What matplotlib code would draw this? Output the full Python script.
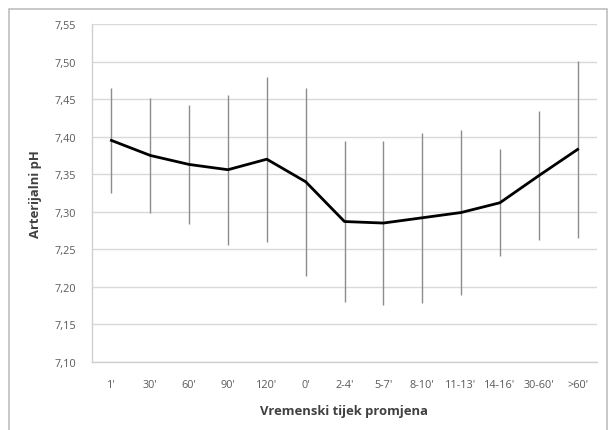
import matplotlib
matplotlib.use("Agg")
import matplotlib.pyplot as plt
from matplotlib.patches import Rectangle
import numpy as np

# Arterial pH over time (mean ± SD)
categories = ["1'", "30'", "60'", "90'", "120'", "0'", "2-4'", "5-7'",
              "8-10'", "11-13'", "14-16'", "30-60'", ">60'"]
ph_mean = [7.395, 7.375, 7.363, 7.356, 7.370, 7.340, 7.287, 7.285,
           7.292, 7.299, 7.312, 7.348, 7.383]
ph_sd = [0.070, 0.076, 0.079, 0.100, 0.110, 0.125, 0.107, 0.109,
         0.113, 0.110, 0.071, 0.086, 0.118]
y_ticks = [7.10, 7.15, 7.20, 7.25, 7.30, 7.35, 7.40, 7.45, 7.50, 7.55]

plt.rcParams['font.family'] = ['Open Sans', 'DejaVu Sans']

W, H = 608, 431
fig = plt.figure(figsize=(W / 100, H / 100), dpi=100)
fig.patch.set_facecolor("white")

# outer chart frame
fig.patches.append(Rectangle((9 / W, -0.05), (W - 10) / W, 1.05 - 10 / H,
                             transform=fig.transFigure, fill=False,
                             edgecolor="#bfbfbf", linewidth=1.2))

ax = fig.add_axes([92 / W, (H - 363) / H, 505 / W, 338 / H])
x = np.arange(len(categories))

ax.errorbar(x, ph_mean, yerr=ph_sd, fmt="none", ecolor="#8c8c8c",
            elinewidth=1.0, capsize=0, zorder=2)
ax.plot(x, ph_mean, color="black", linewidth=2.0, zorder=3)

ax.set_xlim(-0.5, len(categories) - 0.5)
ax.set_ylim(7.10, 7.55)
ax.set_yticks(y_ticks)
ax.set_yticklabels([f"{v:.2f}".replace(".", ",") for v in y_ticks])
ax.set_xticks(x)
ax.set_xticklabels(categories)

ax.yaxis.grid(True, color="#d9d9d9", linewidth=1.0)
ax.set_axisbelow(True)
for side in ("top", "right"):
    ax.spines[side].set_visible(False)
for side in ("left", "bottom"):
    ax.spines[side].set_color("#d0d0d0")
    ax.spines[side].set_linewidth(1.0)

ax.tick_params(axis="both", length=0, labelsize=7.8, colors="#595959")
ax.tick_params(axis="y", pad=19)
ax.tick_params(axis="x", pad=12)
for lbl in ax.get_yticklabels():
    lbl.set_horizontalalignment("center")

ax.set_xlabel("Vremenski tijek promjena", fontsize=9.4, fontweight="bold",
              color="#404040", labelpad=10)
ax.set_ylabel("Arterijalni pH", fontsize=9.4, fontweight="bold",
              color="#404040", labelpad=9)

fig.savefig("out.png", dpi=100, facecolor="white")
